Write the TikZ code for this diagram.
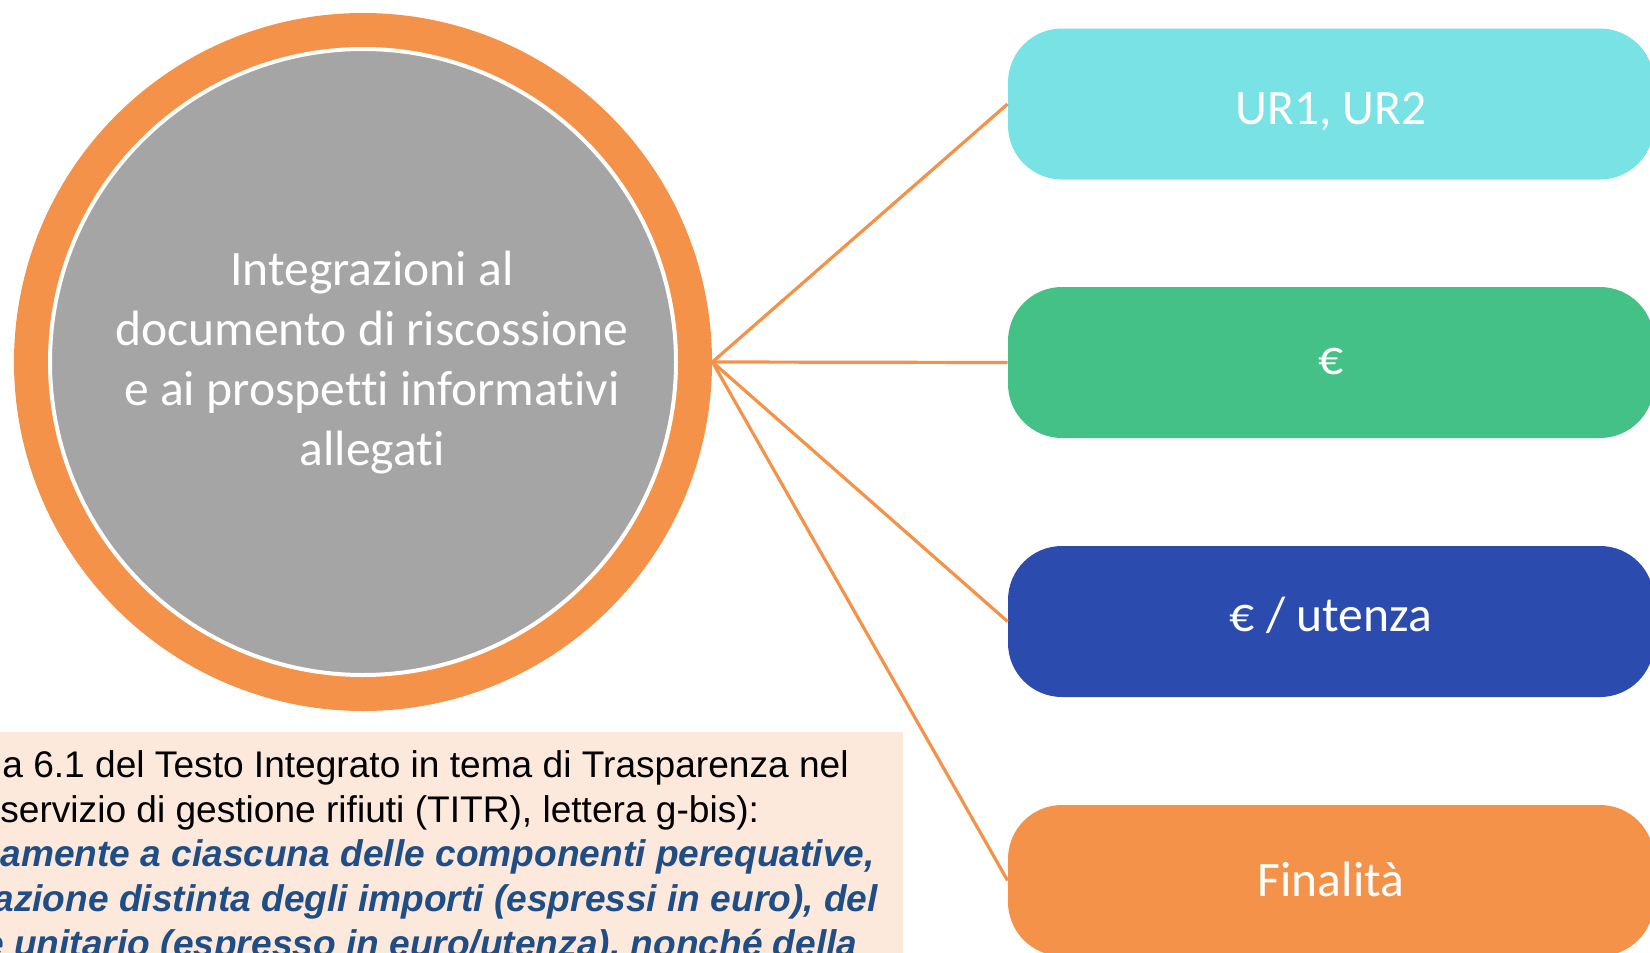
\documentclass[tikz,border=0pt]{standalone}
\usepackage{fontspec}
\setmainfont{Carlito}[Ligatures=NoCommon]
\newfontfamily\arialfont{Liberation Sans}
\definecolor{ringorange}{HTML}{F4924A}
\definecolor{hubgrey}{HTML}{A5A5A5}
\definecolor{boxcyan}{HTML}{78E2E5}
\definecolor{boxgreen}{HTML}{44C186}
\definecolor{boxblue}{HTML}{2B4BAF}
\definecolor{notepeach}{HTML}{FDE9DC}
\definecolor{noteblue}{HTML}{1F4E86}
\begin{document}
\begin{tikzpicture}[x=0.5pt,y=-0.5pt,
  pill/.style={rounded corners=27pt, minimum width=323pt, minimum height=75.5pt,
    inner sep=0pt, text=white, font=\fontsize{24.8}{29}\selectfont,
    text height=16pt, text depth=0pt},
  conn/.style={draw=ringorange, line width=1.6pt},
  notetext/.style={anchor=base west, inner sep=0pt, text=black,
    font=\arialfont\fontsize{18.55}{22}\selectfont},
  notebold/.style={anchor=base west, inner sep=0pt, text=noteblue,
    font=\arialfont\fontsize{18.55}{22}\selectfont\bfseries\itshape}]
\useasboundingbox (0,0) rectangle (1650,953);
\clip (0,0) rectangle (1650,953);
% hub
\node[circle, fill=ringorange, minimum size=349pt, inner sep=0pt] (hub) at (363,362) {};
\node[circle, fill=hubgrey, draw=white, line width=2pt, minimum size=313pt, inner sep=0pt] (hubin) at (363,362) {};
\node[anchor=base, align=center, text=white, inner sep=0pt,
  font=\fontsize{24.8}{30}\selectfont] (hubtext) at (372,465)
  {Integrazioni al\\documento di riscossione\\e ai prospetti informativi\\allegati};
% boxes
\node[pill, fill=boxcyan] (b1) at (1331,104) {\raisebox{-2pt}{UR1, UR2}};
\node[pill, fill=boxgreen] (b2) at (1331,362.5) {\raisebox{2pt}{€}};
\node[pill, fill=boxblue] (b3) at (1331,621.5) {\raisebox{3pt}{€ / utenza}};
\node[pill, fill=ringorange] (b4) at (1331,880.5) {Finalità};
% connectors
\draw[conn] (hub.east) -- (b1.west);
\draw[conn] (hub.east) -- (b2.west);
\draw[conn] (hub.east) -- (b3.west);
\draw[conn] (hub.east) -- (b4.west);
% note box
\node[fill=notepeach, anchor=north west, minimum width=451.5pt, minimum height=120pt, inner sep=0pt] (note) at (0,732) {};
\node[notetext] (t1) at (2,777) {a 6.1 del Testo Integrato in tema di Trasparenza nel};
\node[notetext] (t2) at (0,822) {servizio di gestione rifiuti (TITR), lettera g-bis):};
\node[notebold] (t3) at (0,866) {amente a ciascuna delle componenti perequative,};
\node[notebold] (t4) at (-7,911) {azione distinta degli importi (espressi in euro), del};
\node[notebold] (t5) at (-17,956) {e unitario (espresso in euro/utenza), nonché della};
\end{tikzpicture}
\end{document}
